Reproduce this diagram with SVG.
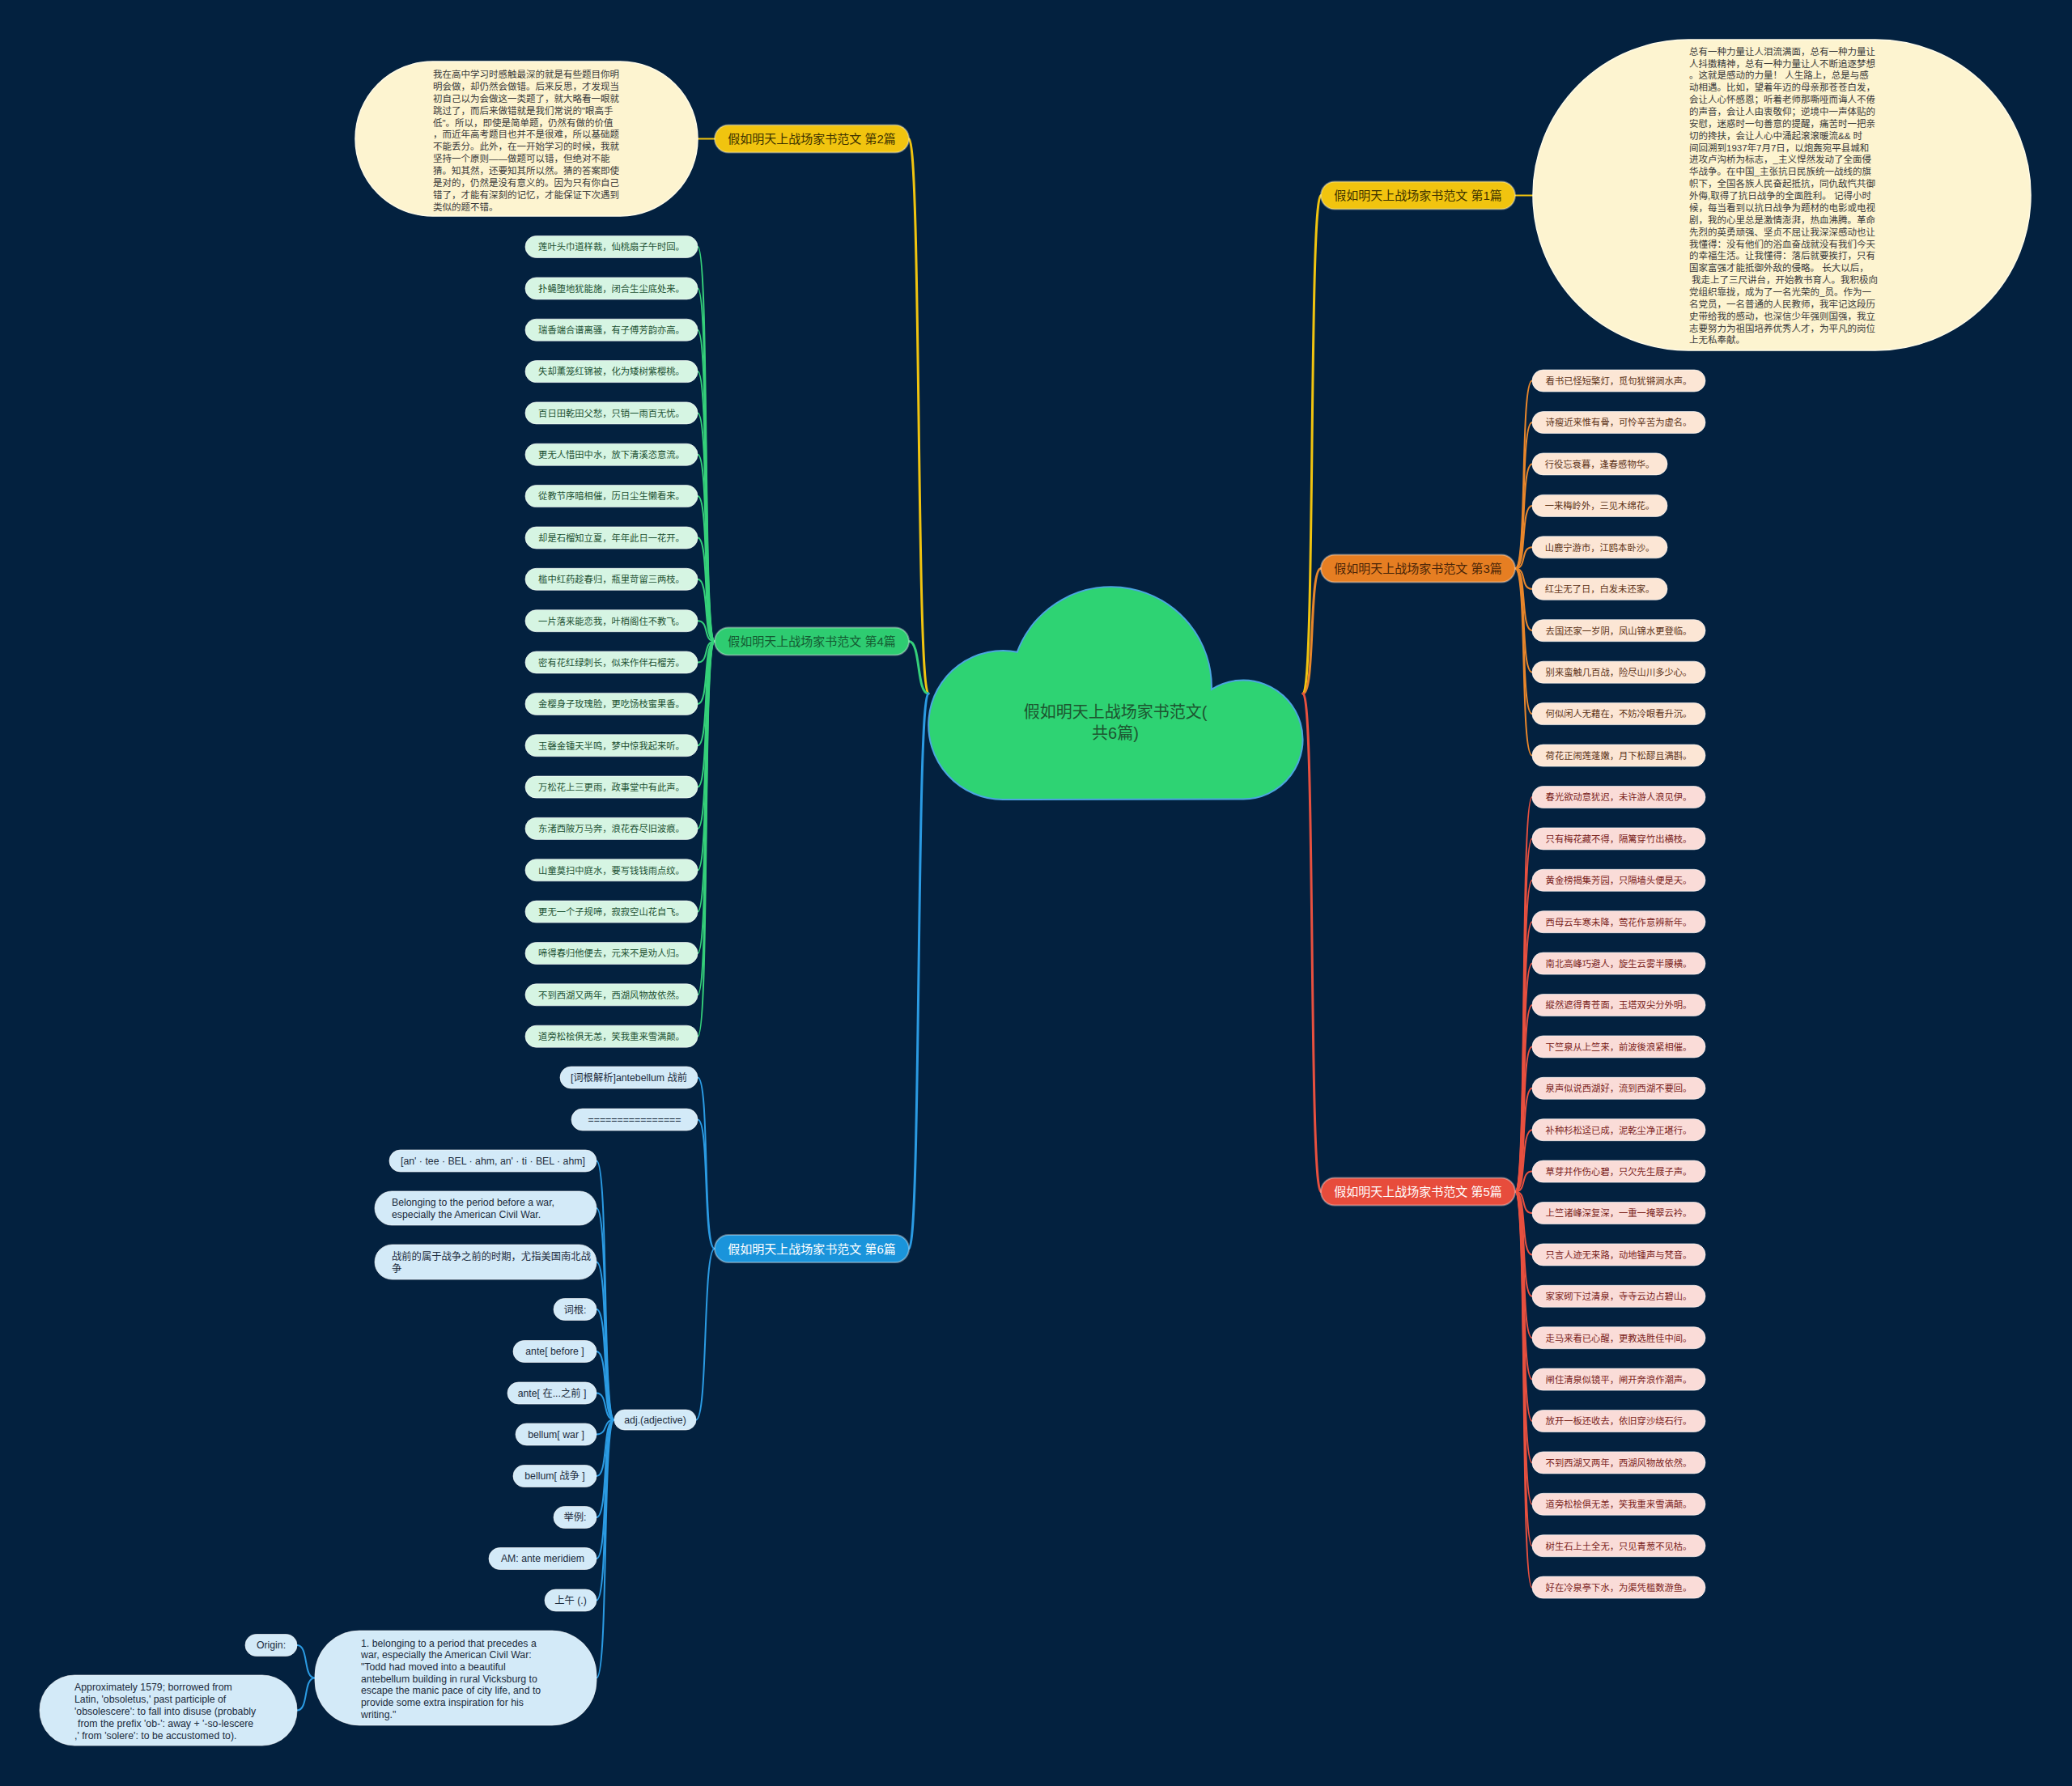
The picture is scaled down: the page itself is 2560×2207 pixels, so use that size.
<svg xmlns="http://www.w3.org/2000/svg" width="2560" height="2207" viewBox="0 0 2560 2207">
<style>
text{font-family:"Liberation Sans","Noto Sans CJK SC",sans-serif}
.lt{font-size:11.3px;text-anchor:middle}
.bt{font-size:15px;text-anchor:middle}
.et{font-size:11.5px;fill:#3a3a3a}
.ut{font-size:12.3px;fill:#1b2b3c}
.um{text-anchor:middle}
.c{fill:none;stroke-linecap:round}
.cm{stroke-width:3}
.cl{stroke-width:2}
.y{stroke:#f1c40f}.g{stroke:#35d07a}.b{stroke:#2b9be3}.o{stroke:#e8862b}.r{stroke:#e8503f}
.nb{stroke:#ffffff;stroke-opacity:0.35;stroke-width:2}
.lg rect{fill:#d6f5e3;stroke:#ffffff;stroke-opacity:0.6}
.lg text{fill:#1d5233}
.lo rect{fill:#fce6d5;stroke:#ffffff;stroke-opacity:0.6}
.lo text{fill:#5c3317}
.lr rect{fill:#fadcd8;stroke:#ffffff;stroke-opacity:0.6}
.lr text{fill:#7b241c}
.lb rect{fill:#d3eaf8;stroke:#ffffff;stroke-opacity:0.6}
.el{fill:#fdf4d0;stroke:#fffbe8;stroke-width:1.5}
</style>
<rect width="2560" height="2207" fill="#03213f"/>

<g id="connectors">
<path class="c cm y" d="M1147,857 C1132,857 1138,171.5 1123,171.5"/>
<path class="c cm g" d="M1147,857 C1132,857 1138,792.5 1123,792.5"/>
<path class="c cm b" d="M1147,857 C1132,857 1138,1543 1123,1543"/>
<path class="c cm y" d="M1610,857 C1625,857 1617,241.5 1632,241.5"/>
<path class="c cm o" d="M1610,857 C1625,857 1617,702.5 1632,702.5"/>
<path class="c cm r" d="M1610,857 C1625,857 1617,1472.5 1632,1472.5"/>
<path class="c cl y" d="M883,171.5 H862"/>
<path class="c cl y" d="M1872,241.5 H1894"/>
<g class="c cl g">
<path d="M883,792.5 C868,792.5 877,305 862,305"/>
<path d="M883,792.5 C868,792.5 877,356.4 862,356.4"/>
<path d="M883,792.5 C868,792.5 877,407.7 862,407.7"/>
<path d="M883,792.5 C868,792.5 877,459.1 862,459.1"/>
<path d="M883,792.5 C868,792.5 877,510.4 862,510.4"/>
<path d="M883,792.5 C868,792.5 877,561.8 862,561.8"/>
<path d="M883,792.5 C868,792.5 877,613.1 862,613.1"/>
<path d="M883,792.5 C868,792.5 877,664.5 862,664.5"/>
<path d="M883,792.5 C868,792.5 877,715.8 862,715.8"/>
<path d="M883,792.5 C868,792.5 877,767.2 862,767.2"/>
<path d="M883,792.5 C868,792.5 877,818.5 862,818.5"/>
<path d="M883,792.5 C868,792.5 877,869.9 862,869.9"/>
<path d="M883,792.5 C868,792.5 877,921.2 862,921.2"/>
<path d="M883,792.5 C868,792.5 877,972.6 862,972.6"/>
<path d="M883,792.5 C868,792.5 877,1023.9 862,1023.9"/>
<path d="M883,792.5 C868,792.5 877,1075.3 862,1075.3"/>
<path d="M883,792.5 C868,792.5 877,1126.6 862,1126.6"/>
<path d="M883,792.5 C868,792.5 877,1178 862,1178"/>
<path d="M883,792.5 C868,792.5 877,1229.3 862,1229.3"/>
<path d="M883,792.5 C868,792.5 877,1280.7 862,1280.7"/>
</g>
<g class="c cl o">
<path d="M1872,702.5 C1887,702.5 1878,470.5 1893,470.5"/>
<path d="M1872,702.5 C1887,702.5 1878,522 1893,522"/>
<path d="M1872,702.5 C1887,702.5 1878,573.4 1893,573.4"/>
<path d="M1872,702.5 C1887,702.5 1878,624.9 1893,624.9"/>
<path d="M1872,702.5 C1887,702.5 1878,676.3 1893,676.3"/>
<path d="M1872,702.5 C1887,702.5 1878,727.8 1893,727.8"/>
<path d="M1872,702.5 C1887,702.5 1878,779.2 1893,779.2"/>
<path d="M1872,702.5 C1887,702.5 1878,830.7 1893,830.7"/>
<path d="M1872,702.5 C1887,702.5 1878,882.1 1893,882.1"/>
<path d="M1872,702.5 C1887,702.5 1878,933.6 1893,933.6"/>
</g>
<g class="c cl r">
<path d="M1872,1472.5 C1887,1472.5 1878,985 1893,985"/>
<path d="M1872,1472.5 C1887,1472.5 1878,1036.4 1893,1036.4"/>
<path d="M1872,1472.5 C1887,1472.5 1878,1087.8 1893,1087.8"/>
<path d="M1872,1472.5 C1887,1472.5 1878,1139.2 1893,1139.2"/>
<path d="M1872,1472.5 C1887,1472.5 1878,1190.6 1893,1190.6"/>
<path d="M1872,1472.5 C1887,1472.5 1878,1242 1893,1242"/>
<path d="M1872,1472.5 C1887,1472.5 1878,1293.4 1893,1293.4"/>
<path d="M1872,1472.5 C1887,1472.5 1878,1344.8 1893,1344.8"/>
<path d="M1872,1472.5 C1887,1472.5 1878,1396.2 1893,1396.2"/>
<path d="M1872,1472.5 C1887,1472.5 1878,1447.6 1893,1447.6"/>
<path d="M1872,1472.5 C1887,1472.5 1878,1499 1893,1499"/>
<path d="M1872,1472.5 C1887,1472.5 1878,1550.4 1893,1550.4"/>
<path d="M1872,1472.5 C1887,1472.5 1878,1601.8 1893,1601.8"/>
<path d="M1872,1472.5 C1887,1472.5 1878,1653.2 1893,1653.2"/>
<path d="M1872,1472.5 C1887,1472.5 1878,1704.6 1893,1704.6"/>
<path d="M1872,1472.5 C1887,1472.5 1878,1756 1893,1756"/>
<path d="M1872,1472.5 C1887,1472.5 1878,1807.4 1893,1807.4"/>
<path d="M1872,1472.5 C1887,1472.5 1878,1858.8 1893,1858.8"/>
<path d="M1872,1472.5 C1887,1472.5 1878,1910.2 1893,1910.2"/>
<path d="M1872,1472.5 C1887,1472.5 1878,1961.6 1893,1961.6"/>
</g>
<g class="c cl b">
<path d="M883,1543 C868,1543 877,1331.5 862,1331.5"/>
<path d="M883,1543 C868,1543 877,1383.5 862,1383.5"/>
<path d="M883,1543 C868,1543 875,1754.5 860,1754.5"/>
<path d="M759,1754.5 C744,1754.5 752,1434.5 737,1434.5"/>
<path d="M759,1754.5 C744,1754.5 752,1493 737,1493"/>
<path d="M759,1754.5 C744,1754.5 752,1559.5 737,1559.5"/>
<path d="M759,1754.5 C744,1754.5 752,1618 737,1618"/>
<path d="M759,1754.5 C744,1754.5 752,1670 737,1670"/>
<path d="M759,1754.5 C744,1754.5 752,1721.5 737,1721.5"/>
<path d="M759,1754.5 C744,1754.5 752,1772.5 737,1772.5"/>
<path d="M759,1754.5 C744,1754.5 752,1824 737,1824"/>
<path d="M759,1754.5 C744,1754.5 752,1875 737,1875"/>
<path d="M759,1754.5 C744,1754.5 752,1926 737,1926"/>
<path d="M759,1754.5 C744,1754.5 752,1977.5 737,1977.5"/>
<path d="M759,1754.5 C744,1754.5 752,2073.5 737,2073.5"/>
<path d="M389,2073.5 C374,2073.5 382,2033 367,2033"/>
<path d="M389,2073.5 C374,2073.5 382,2113.5 367,2113.5"/>
</g>
</g>

<g id="root">
<path d="M1239,988 A92,92 0 1 1 1256.8,805.7 A124,124 0 0 1 1496.9,851.8 A73.5,73.5 0 1 1 1536,987.5 Z" fill="#2ed373" stroke="#4ba6df" stroke-width="2"/>
<text x="1378" y="886.6" font-size="20" text-anchor="middle" fill="#1d5530">假如明天上战场家书范文(</text>
<text x="1378" y="913" font-size="20" text-anchor="middle" fill="#1d5530">共6篇)</text>
</g>

<g id="branch2"><rect class="nb" x="883" y="154.5" width="240" height="34" rx="17" fill="#f1c40f"/><text class="bt" x="1003" y="177.2" fill="#3d3200">假如明天上战场家书范文 第2篇</text></g>
<g id="branch1"><rect class="nb" x="1632" y="224.5" width="240" height="34" rx="17" fill="#f1c40f"/><text class="bt" x="1752" y="247.2" fill="#3d3200">假如明天上战场家书范文 第1篇</text></g>
<g id="branch3"><rect class="nb" x="1632" y="685.5" width="240" height="34" rx="17" fill="#e67e22"/><text class="bt" x="1752" y="708.2" fill="#4a2508">假如明天上战场家书范文 第3篇</text></g>
<g id="branch5"><rect class="nb" x="1632" y="1455.5" width="240" height="34" rx="17" fill="#e74c3c"/><text class="bt" x="1752" y="1478.2" fill="#ffffff">假如明天上战场家书范文 第5篇</text></g>
<g id="branch4"><rect class="nb" x="883" y="775.5" width="240" height="34" rx="17" fill="#2ecc71"/><text class="bt" x="1003" y="798.2" fill="#145a32">假如明天上战场家书范文 第4篇</text></g>
<g id="branch6"><rect class="nb" x="883" y="1526" width="240" height="34" rx="17" fill="#1a94db"/><text class="bt" x="1003" y="1548.7" fill="#ffffff">假如明天上战场家书范文 第6篇</text></g>

<g id="text2">
<rect class="el" x="439" y="76" width="423" height="191" rx="95.5"/>
<text class="et" x="535" y="96.1">
<tspan x="535" y="96.1">我在高中学习时感触最深的就是有些题目你明</tspan>
<tspan x="535" y="111">明会做，却仍然会做错。后来反思，才发现当</tspan>
<tspan x="535" y="125.8">初自己以为会做这一类题了，就大略看一眼就</tspan>
<tspan x="535" y="140.7">跳过了，而后来做错就是我们常说的"眼高手</tspan>
<tspan x="535" y="155.5">低"。所以，即使是简单题，仍然有做的价值</tspan>
<tspan x="535" y="170.4">，而近年高考题目也并不是很难，所以基础题</tspan>
<tspan x="535" y="185.3">不能丢分。此外，在一开始学习的时候，我就</tspan>
<tspan x="535" y="200.1">坚持一个原则——做题可以错，但绝对不能</tspan>
<tspan x="535" y="215">猜。知其然，还要知其所以然。猜的答案即使</tspan>
<tspan x="535" y="229.8">是对的，仍然是没有意义的。因为只有你自己</tspan>
<tspan x="535" y="244.7">错了，才能有深刻的记忆，才能保证下次遇到</tspan>
<tspan x="535" y="259.6">类似的题不错。</tspan>
</text>
</g>

<g id="text1">
<rect class="el" x="1894" y="49" width="615" height="384" rx="192"/>
<text class="et">
<tspan x="2087" y="67.7">总有一种力量让人泪流满面，总有一种力量让</tspan>
<tspan x="2087" y="82.6">人抖擞精神，总有一种力量让人不断追逐梦想</tspan>
<tspan x="2087" y="97.4">。这就是感动的力量！ 人生路上，总是与感</tspan>
<tspan x="2087" y="112.3">动相遇。比如，望着年迈的母亲那苍苍白发，</tspan>
<tspan x="2087" y="127.1">会让人心怀感恩；听着老师那嘶哑而诲人不倦</tspan>
<tspan x="2087" y="142">的声音，会让人由衷敬仰；逆境中一声体贴的</tspan>
<tspan x="2087" y="156.9">安慰，迷惑时一句善意的提醒，痛苦时一把亲</tspan>
<tspan x="2087" y="171.7">切的搀扶，会让人心中涌起滚滚暖流&amp;&amp; 时</tspan>
<tspan x="2087" y="186.6">间回溯到1937年7月7日，以炮轰宛平县城和</tspan>
<tspan x="2087" y="201.4">进攻卢沟桥为标志，_主义悍然发动了全面侵</tspan>
<tspan x="2087" y="216.3">华战争。在中国_主张抗日民族统一战线的旗</tspan>
<tspan x="2087" y="231.2">帜下，全国各族人民奋起抵抗，同仇敌忾共御</tspan>
<tspan x="2087" y="246">外侮,取得了抗日战争的全面胜利。 记得小时</tspan>
<tspan x="2087" y="260.9">候，每当看到以抗日战争为题材的电影或电视</tspan>
<tspan x="2087" y="275.7">剧，我的心里总是激情澎湃，热血沸腾。革命</tspan>
<tspan x="2087" y="290.6">先烈的英勇顽强、坚贞不屈让我深深感动也让</tspan>
<tspan x="2087" y="305.5">我懂得：没有他们的浴血奋战就没有我们今天</tspan>
<tspan x="2087" y="320.3">的幸福生活。让我懂得：落后就要挨打，只有</tspan>
<tspan x="2087" y="335.2">国家富强才能抵御外敌的侵略。 长大以后，</tspan>
<tspan x="2090" y="350">我走上了三尺讲台，开始教书育人。我积极向</tspan>
<tspan x="2087" y="364.9">党组织靠拢，成为了一名光荣的_员。作为一</tspan>
<tspan x="2087" y="379.8">名党员，一名普通的人民教师，我牢记这段历</tspan>
<tspan x="2087" y="394.6">史带给我的感动，也深信少年强则国强，我立</tspan>
<tspan x="2087" y="409.5">志要努力为祖国培养优秀人才，为平凡的岗位</tspan>
<tspan x="2087" y="424.3">上无私奉献。</tspan>
</text>
</g>

<g class="lg">
<g id="p4-1"><rect x="649" y="291.5" width="213" height="27" rx="13.5"/><text class="lt" x="755.5" y="309.3">莲叶头巾道样裁，仙桃扇子午时回。</text></g>
<g id="p4-2"><rect x="649" y="342.9" width="213" height="27" rx="13.5"/><text class="lt" x="755.5" y="360.7">扑蝇堕地犹能施，闭合生尘底处来。</text></g>
<g id="p4-3"><rect x="649" y="394.2" width="213" height="27" rx="13.5"/><text class="lt" x="755.5" y="412">瑞香端合谱离骚，有子傅芳韵亦高。</text></g>
<g id="p4-4"><rect x="649" y="445.6" width="213" height="27" rx="13.5"/><text class="lt" x="755.5" y="463.4">失却薰笼红锦被，化为矮树紫樱桃。</text></g>
<g id="p4-5"><rect x="649" y="496.9" width="213" height="27" rx="13.5"/><text class="lt" x="755.5" y="514.7">百日田乾田父愁，只销一雨百无忧。</text></g>
<g id="p4-6"><rect x="649" y="548.3" width="213" height="27" rx="13.5"/><text class="lt" x="755.5" y="566.1">更无人惜田中水，放下清溪恣意流。</text></g>
<g id="p4-7"><rect x="649" y="599.6" width="213" height="27" rx="13.5"/><text class="lt" x="755.5" y="617.4">從教节序暗相催，历日尘生懒看来。</text></g>
<g id="p4-8"><rect x="649" y="651" width="213" height="27" rx="13.5"/><text class="lt" x="755.5" y="668.8">却是石榴知立夏，年年此日一花开。</text></g>
<g id="p4-9"><rect x="649" y="702.3" width="213" height="27" rx="13.5"/><text class="lt" x="755.5" y="720.1">槛中红药趁春归，瓶里苛留三两枝。</text></g>
<g id="p4-10"><rect x="649" y="753.7" width="213" height="27" rx="13.5"/><text class="lt" x="755.5" y="771.5">一片落来能恋我，叶梢阁住不教飞。</text></g>
<g id="p4-11"><rect x="649" y="805" width="213" height="27" rx="13.5"/><text class="lt" x="755.5" y="822.8">密有花红绿刺长，似来作伴石榴芳。</text></g>
<g id="p4-12"><rect x="649" y="856.4" width="213" height="27" rx="13.5"/><text class="lt" x="755.5" y="874.2">金樱身子玫瑰脸，更吃饧枝蜜果香。</text></g>
<g id="p4-13"><rect x="649" y="907.7" width="213" height="27" rx="13.5"/><text class="lt" x="755.5" y="925.5">玉磬金锺天半鸣，梦中惊我起来听。</text></g>
<g id="p4-14"><rect x="649" y="959.1" width="213" height="27" rx="13.5"/><text class="lt" x="755.5" y="976.9">万松花上三更雨，政事堂中有此声。</text></g>
<g id="p4-15"><rect x="649" y="1010.4" width="213" height="27" rx="13.5"/><text class="lt" x="755.5" y="1028.2">东渚西陂万马奔，浪花吞尽旧波痕。</text></g>
<g id="p4-16"><rect x="649" y="1061.8" width="213" height="27" rx="13.5"/><text class="lt" x="755.5" y="1079.6">山童莫扫中庭水，要写钱钱雨点纹。</text></g>
<g id="p4-17"><rect x="649" y="1113.1" width="213" height="27" rx="13.5"/><text class="lt" x="755.5" y="1130.9">更无一个子规啼，寂寂空山花自飞。</text></g>
<g id="p4-18"><rect x="649" y="1164.5" width="213" height="27" rx="13.5"/><text class="lt" x="755.5" y="1182.3">啼得春归他便去，元来不是劝人归。</text></g>
<g id="p4-19"><rect x="649" y="1215.8" width="213" height="27" rx="13.5"/><text class="lt" x="755.5" y="1233.6">不到西湖又两年，西湖风物故依然。</text></g>
<g id="p4-20"><rect x="649" y="1267.2" width="213" height="27" rx="13.5"/><text class="lt" x="755.5" y="1285">道旁松桧俱无恙，笑我重来雪满颠。</text></g>
</g>

<g class="lo">
<g id="p3-1"><rect x="1893" y="457" width="214" height="27" rx="13.5"/><text class="lt" x="2000" y="474.8">看书已怪短檠灯，觅句犹锵涧水声。</text></g>
<g id="p3-2"><rect x="1893" y="508.5" width="214" height="27" rx="13.5"/><text class="lt" x="2000" y="526.3">诗瘦近来惟有骨，可怜辛苦为虚名。</text></g>
<g id="p3-3"><rect x="1893" y="559.9" width="167" height="27" rx="13.5"/><text class="lt" x="1976.5" y="577.7">行役忘衰暮，逢春感物华。</text></g>
<g id="p3-4"><rect x="1893" y="611.4" width="167" height="27" rx="13.5"/><text class="lt" x="1976.5" y="629.2">一来梅岭外，三见木绵花。</text></g>
<g id="p3-5"><rect x="1893" y="662.8" width="167" height="27" rx="13.5"/><text class="lt" x="1976.5" y="680.6">山鹿宁游市，江鸥本卧沙。</text></g>
<g id="p3-6"><rect x="1893" y="714.3" width="167" height="27" rx="13.5"/><text class="lt" x="1976.5" y="732.1">红尘无了日，白发未还家。</text></g>
<g id="p3-7"><rect x="1893" y="765.7" width="214" height="27" rx="13.5"/><text class="lt" x="2000" y="783.5">去国还家一岁阴，凤山锦水更登临。</text></g>
<g id="p3-8"><rect x="1893" y="817.2" width="214" height="27" rx="13.5"/><text class="lt" x="2000" y="835">别来蛮触几百战，险尽山川多少心。</text></g>
<g id="p3-9"><rect x="1893" y="868.6" width="214" height="27" rx="13.5"/><text class="lt" x="2000" y="886.4">何似闲人无藉在，不妨冷眼看升沉。</text></g>
<g id="p3-10"><rect x="1893" y="920.1" width="214" height="27" rx="13.5"/><text class="lt" x="2000" y="937.9">荷花正闹莲蓬嫩，月下松醪且满斟。</text></g>
</g>

<g class="lr">
<g id="p5-1"><rect x="1893" y="971.5" width="214" height="27" rx="13.5"/><text class="lt" x="2000" y="989.3">春光欲动意犹迟，未许游人浪见伊。</text></g>
<g id="p5-2"><rect x="1893" y="1022.9" width="214" height="27" rx="13.5"/><text class="lt" x="2000" y="1040.7">只有梅花藏不得，隔篱穿竹出横枝。</text></g>
<g id="p5-3"><rect x="1893" y="1074.3" width="214" height="27" rx="13.5"/><text class="lt" x="2000" y="1092.1">黄金榜揭集芳园，只隔墙头便是天。</text></g>
<g id="p5-4"><rect x="1893" y="1125.7" width="214" height="27" rx="13.5"/><text class="lt" x="2000" y="1143.5">西母云车寒未降，莺花作意辨新年。</text></g>
<g id="p5-5"><rect x="1893" y="1177.1" width="214" height="27" rx="13.5"/><text class="lt" x="2000" y="1194.9">南北高峰巧避人，旋生云雾半腰横。</text></g>
<g id="p5-6"><rect x="1893" y="1228.5" width="214" height="27" rx="13.5"/><text class="lt" x="2000" y="1246.3">縱然遮得青苍面，玉塔双尖分外明。</text></g>
<g id="p5-7"><rect x="1893" y="1279.9" width="214" height="27" rx="13.5"/><text class="lt" x="2000" y="1297.7">下竺泉从上竺来，前波後浪紧相催。</text></g>
<g id="p5-8"><rect x="1893" y="1331.3" width="214" height="27" rx="13.5"/><text class="lt" x="2000" y="1349.1">泉声似说西湖好，流到西湖不要回。</text></g>
<g id="p5-9"><rect x="1893" y="1382.7" width="214" height="27" rx="13.5"/><text class="lt" x="2000" y="1400.5">补种杉松迳已成，泥乾尘净正堪行。</text></g>
<g id="p5-10"><rect x="1893" y="1434.1" width="214" height="27" rx="13.5"/><text class="lt" x="2000" y="1451.9">草芽并作伤心碧，只欠先生屐子声。</text></g>
<g id="p5-11"><rect x="1893" y="1485.5" width="214" height="27" rx="13.5"/><text class="lt" x="2000" y="1503.3">上竺诸峰深复深，一重一掩翠云衿。</text></g>
<g id="p5-12"><rect x="1893" y="1536.9" width="214" height="27" rx="13.5"/><text class="lt" x="2000" y="1554.7">只言人迹无来路，动地锺声与梵音。</text></g>
<g id="p5-13"><rect x="1893" y="1588.3" width="214" height="27" rx="13.5"/><text class="lt" x="2000" y="1606.1">家家砌下过清泉，寺寺云边占碧山。</text></g>
<g id="p5-14"><rect x="1893" y="1639.7" width="214" height="27" rx="13.5"/><text class="lt" x="2000" y="1657.5">走马来看已心醒，更教选胜佳中间。</text></g>
<g id="p5-15"><rect x="1893" y="1691.1" width="214" height="27" rx="13.5"/><text class="lt" x="2000" y="1708.9">闸住清泉似镜平，闸开奔浪作潮声。</text></g>
<g id="p5-16"><rect x="1893" y="1742.5" width="214" height="27" rx="13.5"/><text class="lt" x="2000" y="1760.3">放开一板还收去，依旧穿沙绕石行。</text></g>
<g id="p5-17"><rect x="1893" y="1793.9" width="214" height="27" rx="13.5"/><text class="lt" x="2000" y="1811.7">不到西湖又两年，西湖风物故依然。</text></g>
<g id="p5-18"><rect x="1893" y="1845.3" width="214" height="27" rx="13.5"/><text class="lt" x="2000" y="1863.1">道旁松桧俱无恙，笑我重来雪满颠。</text></g>
<g id="p5-19"><rect x="1893" y="1896.7" width="214" height="27" rx="13.5"/><text class="lt" x="2000" y="1914.5">树生石上土全无，只见青葱不见枯。</text></g>
<g id="p5-20"><rect x="1893" y="1948.1" width="214" height="27" rx="13.5"/><text class="lt" x="2000" y="1965.9">好在冷泉亭下水，为渠凭槛数游鱼。</text></g>
</g>

<g class="lb">
<g id="w-1"><rect x="692" y="1318" width="170" height="27" rx="13.5"/><text class="ut um" x="777" y="1335.9">[词根解析]antebellum 战前</text></g>
<g id="w-2"><rect x="706" y="1370" width="156" height="27" rx="13.5"/><text class="ut um" x="784" y="1387.5">================</text></g>
<g id="w-adj"><rect x="759" y="1742" width="101" height="25" rx="12.5"/><text class="ut um" x="809.5" y="1758.8">adj.(adjective)</text></g>
<g id="w-3"><rect x="481" y="1421" width="256" height="27" rx="13.5"/><text class="ut um" x="609" y="1438.9">[an' · tee · BEL · ahm, an' · ti · BEL · ahm]</text></g>
<g id="w-4"><rect x="463" y="1472" width="274" height="42" rx="21"/><text class="ut"><tspan x="484" y="1490">Belonging to the period before a war,</tspan><tspan x="484" y="1504.7">especially the American Civil War.</tspan></text></g>
<g id="w-5"><rect x="463" y="1538" width="274" height="43" rx="21.5"/><text class="ut"><tspan x="484" y="1557.3">战前的属于战争之前的时期，尤指美国南北战</tspan><tspan x="484" y="1572">争</tspan></text></g>
<g id="w-6"><rect x="684" y="1604.5" width="53" height="27" rx="13.5"/><text class="ut um" x="710.5" y="1622.5">词根:</text></g>
<g id="w-7"><rect x="634" y="1656.5" width="103" height="27" rx="13.5"/><text class="ut um" x="685.5" y="1674.4">ante[ before ]</text></g>
<g id="w-8"><rect x="627" y="1708" width="110" height="27" rx="13.5"/><text class="ut um" x="682" y="1726">ante[ 在...之前 ]</text></g>
<g id="w-9"><rect x="637" y="1759" width="100" height="27" rx="13.5"/><text class="ut um" x="687" y="1776.8">bellum[ war ]</text></g>
<g id="w-10"><rect x="634" y="1810.5" width="103" height="27" rx="13.5"/><text class="ut um" x="685.5" y="1828.4">bellum[ 战争 ]</text></g>
<g id="w-11"><rect x="684" y="1861.5" width="53" height="27" rx="13.5"/><text class="ut um" x="710.5" y="1879.4">举例:</text></g>
<g id="w-12"><rect x="604" y="1912.5" width="133" height="27" rx="13.5"/><text class="ut um" x="670.5" y="1930.4">AM: ante meridiem</text></g>
<g id="w-13"><rect x="673" y="1964" width="64" height="27" rx="13.5"/><text class="ut um" x="705" y="1981.9">上午 (.)</text></g>
<g id="w-14"><rect x="389" y="2015" width="348" height="117" rx="55"/><text class="ut">
<tspan x="446" y="2034.5">1. belonging to a period that precedes a</tspan>
<tspan x="446" y="2049.2">war, especially the American Civil War:</tspan>
<tspan x="446" y="2063.9">"Todd had moved into a beautiful</tspan>
<tspan x="446" y="2078.6">antebellum building in rural Vicksburg to</tspan>
<tspan x="446" y="2093.3">escape the manic pace of city life, and to</tspan>
<tspan x="446" y="2108">provide some extra inspiration for his</tspan>
<tspan x="446" y="2122.7">writing."</tspan>
</text></g>
<g id="w-15"><rect x="303" y="2019.5" width="64" height="27" rx="13.5"/><text class="ut um" x="335" y="2037.4">Origin:</text></g>
<g id="w-16"><rect x="49" y="2070" width="318" height="87" rx="43"/><text class="ut">
<tspan x="92" y="2089.4">Approximately 1579; borrowed from</tspan>
<tspan x="92" y="2104.2">Latin, 'obsoletus,' past participle of</tspan>
<tspan x="92" y="2119">'obsolescere': to fall into disuse (probably</tspan>
<tspan x="96" y="2133.8">from the prefix 'ob-': away + '-so-lescere</tspan>
<tspan x="92" y="2148.6">,' from 'solere': to be accustomed to).</tspan>
</text></g>
</g>
</svg>
